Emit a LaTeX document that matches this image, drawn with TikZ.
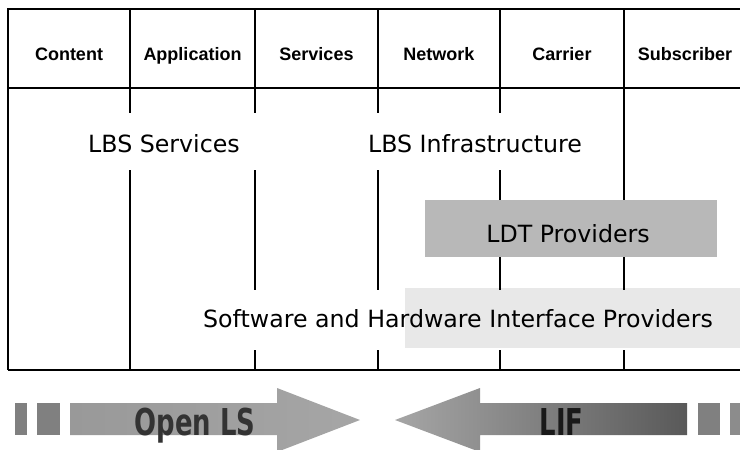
\documentclass[tikz,border=0pt]{standalone}
\usepackage{fontspec}
\setmainfont{DejaVu Sans}
\newfontfamily\headfont{Liberation Sans}
\newfontfamily\bandfont[FakeStretch=0.7]{DejaVu Sans}
\begin{document}
\begin{tikzpicture}[x=1pt,y=-1pt,
  grid/.style={line width=1.8pt, black},
  colhead/.style={font=\headfont\bfseries\fontsize{18}{20}\selectfont, anchor=base, inner sep=0pt},
  layer/.style={font=\fontsize{23.7}{26}\selectfont, anchor=base, inner sep=0pt},
  arrowlabel/.style={font=\bandfont\bfseries\fontsize{37}{40}\selectfont, anchor=base, inner sep=0pt},
  block/.style={fill=black!50}]
\useasboundingbox (0,0) rectangle (740,450);

% shaded layer bands
\fill[black!28] (425,200) rectangle (717,257);
\fill[black!9] (405,288) rectangle (740,348);

% table frame and header row
\draw[grid] (740,9) -- (8,9) -- (8,370);
\draw[grid, line width=2.4pt] (8,370) -- (740,370);
\draw[grid] (8,88) -- (740,88);

% column dividers, broken where the layer labels run across
\draw[grid] (130,9) -- (130,113) (130,170) -- (130,370);
\draw[grid] (255,9) -- (255,113) (255,170) -- (255,290) (255,350) -- (255,370);
\draw[grid] (378,9) -- (378,113) (378,170) -- (378,290) (378,350) -- (378,370);
\draw[grid] (500,9) -- (500,113) (500,170) -- (500,200) (500,257) -- (500,290) (500,350) -- (500,370);
\draw[grid] (624,9) -- (624,200) (624,257) -- (624,290) (624,350) -- (624,370);

% column headings
\node[colhead] (hcontent)  at (69,60)    {Content};
\node[colhead] (happ)      at (192.5,60) {Application};
\node[colhead] (hserv)     at (316.5,60) {Services};
\node[colhead] (hnet)      at (439,60)   {Network};
\node[colhead] (hcarrier)  at (562,60)   {Carrier};
\node[colhead] (hsub)      at (685,60)   {Subscriber};

% layers
\node[layer] (lbsserv)  at (164,152) {LBS Services};
\node[layer] (lbsinfra) at (475,152) {LBS Infrastructure};
\node[layer] (ldt)      at (568,242) {LDT Providers};
\node[layer] (swhw)     at (458,327) {Software and Hardware Interface Providers};

% Open LS arrow
\fill[block] (15,403) rectangle (27,435);
\fill[block] (37,403) rectangle (60,435);
\shade[left color=black!40, middle color=black!55, right color=black!35]
  (70,403) -- (277,403) -- (277,388) -- (360,420) -- (277,452) -- (277,435) -- (70,435) -- cycle;
\node[arrowlabel, text=black!80] (openls) at (195,435) {Open LS};

% LIF arrow
\shade[left color=black!35, middle color=black!50, right color=black!65]
  (687,403) -- (480,403) -- (480,388) -- (395,420) -- (480,452) -- (480,435) -- (687,435) -- cycle;
\fill[block] (698,403) rectangle (720,435);
\fill[black!45] (730,403) rectangle (740,435);
\node[arrowlabel, text=black!90] (lif) at (561.5,435) {LIF};
\end{tikzpicture}
\end{document}
